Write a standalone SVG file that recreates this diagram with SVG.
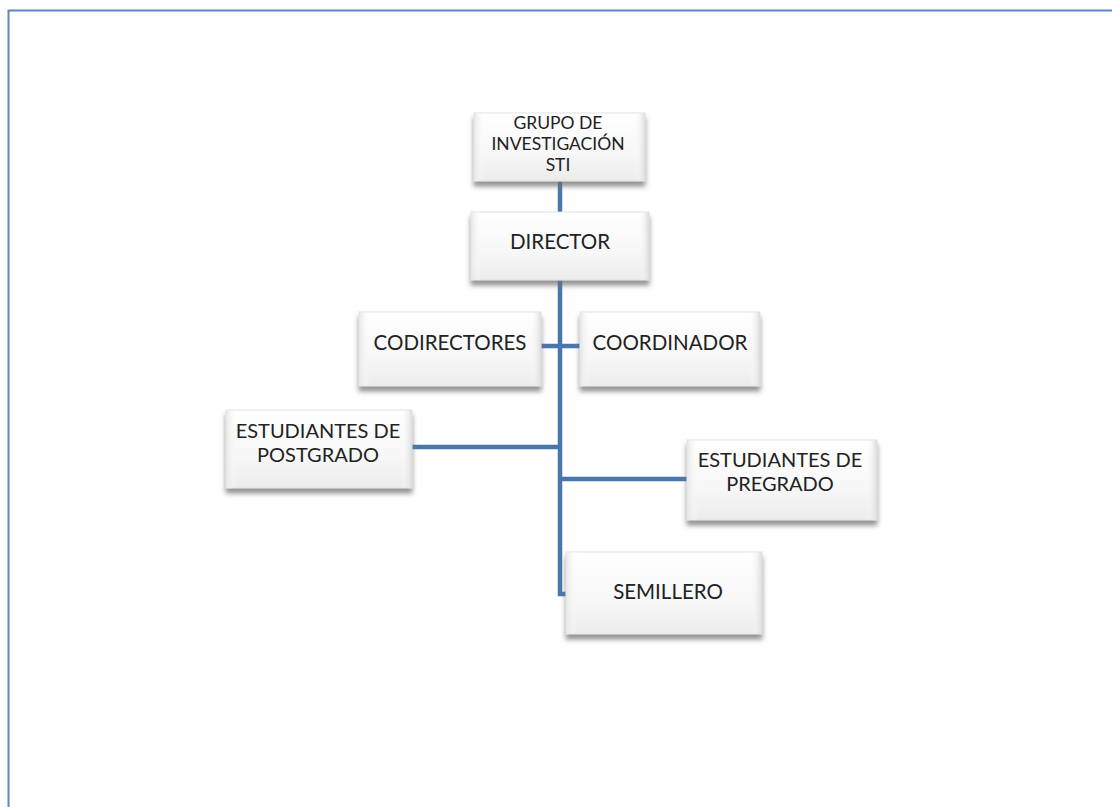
<svg xmlns="http://www.w3.org/2000/svg" width="1112" height="807" viewBox="0 0 1112 807">
<defs>
<linearGradient id="g" x1="0" y1="0" x2="0" y2="1">
<stop offset="0" stop-color="#ffffff"/>
<stop offset="0.6" stop-color="#f7f7f7"/>
<stop offset="1" stop-color="#ececec"/>
</linearGradient>
<linearGradient id="bev" x1="0" y1="0" x2="1" y2="0">
<stop offset="0" stop-color="#e6e6e6"/>
<stop offset="0.06" stop-color="#ffffff" stop-opacity="0"/>
<stop offset="0.94" stop-color="#ffffff" stop-opacity="0"/>
<stop offset="1" stop-color="#dcdcdc"/>
</linearGradient>
<filter id="sh" x="-10%" y="-10%" width="120%" height="140%">
<feGaussianBlur in="SourceAlpha" stdDeviation="2.5"/>
<feOffset dy="5" result="b"/>
<feFlood flood-color="#6e6e6e" flood-opacity="0.75"/>
<feComposite in2="b" operator="in" result="s"/>
<feMerge><feMergeNode in="s"/><feMergeNode in="SourceGraphic"/></feMerge>
</filter>
</defs>
<style>
.box{fill:url(#g);stroke:#e2e2e2;stroke-width:1;filter:url(#sh)}
.bev{fill:url(#bev)}
.t{font-family:Lato,"Open Sans","Liberation Sans",sans-serif;font-size:20.5px;fill:#222;text-anchor:middle}
.m{font-size:20px}
.s{font-size:17.5px}
.c{fill:none;stroke:#4a76ae;stroke-width:4.5}
</style>
<rect x="8.5" y="10.5" width="1112" height="805" fill="none" stroke="#5b87c2" stroke-width="2"/>
<g id="connectors">
<line class="c" x1="560" y1="180" x2="560" y2="214"/>
<polyline class="c" points="560,278 560,594 568,594"/>
<line class="c" x1="540" y1="346" x2="581" y2="346"/>
<line class="c" x1="410" y1="447" x2="560" y2="447"/>
<line class="c" x1="560" y1="479" x2="688" y2="479"/>
</g>
<g id="n-grupo">
<rect class="box" x="474" y="113" width="171" height="68"/>
<rect class="bev" x="474" y="113" width="171" height="68"/>
<text class="t s" x="558" y="129">GRUPO DE</text>
<text class="t s" x="558" y="150">INVESTIGACIÓN</text>
<text class="t s" x="558" y="171">STI</text>
</g>
<g id="n-director">
<rect class="box" x="471" y="212" width="178" height="68"/>
<rect class="bev" x="471" y="212" width="178" height="68"/>
<text class="t" x="560" y="249">DIRECTOR</text>
</g>
<g id="n-codirectores">
<rect class="box" x="359" y="312" width="182" height="74"/>
<rect class="bev" x="359" y="312" width="182" height="74"/>
<text class="t" x="450" y="350">CODIRECTORES</text>
</g>
<g id="n-coordinador">
<rect class="box" x="580" y="312" width="180" height="74"/>
<rect class="bev" x="580" y="312" width="180" height="74"/>
<text class="t" x="670" y="350">COORDINADOR</text>
</g>
<g id="n-postgrado">
<rect class="box" x="226" y="410" width="186" height="78"/>
<rect class="bev" x="226" y="410" width="186" height="78"/>
<text class="t m" x="318" y="438">ESTUDIANTES DE</text>
<text class="t m" x="318" y="462">POSTGRADO</text>
</g>
<g id="n-pregrado">
<rect class="box" x="687" y="440" width="190" height="80"/>
<rect class="bev" x="687" y="440" width="190" height="80"/>
<text class="t m" x="780" y="467">ESTUDIANTES DE</text>
<text class="t m" x="780" y="491">PREGRADO</text>
</g>
<g id="n-semillero">
<rect class="box" x="566" y="552" width="196" height="82"/>
<rect class="bev" x="566" y="552" width="196" height="82"/>
<text class="t" x="668" y="599">SEMILLERO</text>
</g>
</svg>
